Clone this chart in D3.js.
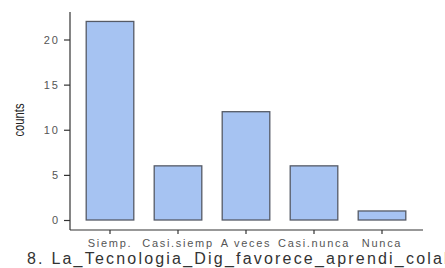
<!DOCTYPE html>
<html><head><meta charset="utf-8">
<script src="https://cdn.jsdelivr.net/npm/d3@7"></script>
<style>body{margin:0;background:#fff;overflow:hidden}svg{display:block}</style>
</head><body>
<script>
const categories = ["Siemp.", "Casi.siemp", "A veces", "Casi.nunca", "Nunca"];
const counts = [22, 6, 12, 6, 1];
const yTicks = [0, 5, 10, 15, 20];
const xTitle = "8. La_Tecnologia_Dig_favorece_aprendi_colaborativo";
const yTitle = "counts";

const W = 445, H = 268;
const svg = d3.select("body").append("svg").attr("width", W).attr("height", H);

const x = d3.scaleBand().domain(categories).range([76, 416]).paddingInner(0.3).paddingOuter(0.15);
const y = d3.scaleLinear().domain([0, 20]).range([220, 39.5]);

// bars
svg.selectAll("rect.bar").data(categories).enter().append("rect")
  .attr("class", "bar")
  .attr("x", d => x(d))
  .attr("width", x.bandwidth())
  .attr("y", (d, i) => y(counts[i]))
  .attr("height", (d, i) => y(0) - y(counts[i]))
  .attr("fill", "#a6c3f2")
  .attr("stroke", "#555a66")
  .attr("stroke-width", 1.3);

// y axis
const yAxis = svg.append("g").attr("transform", "translate(70,0)")
  .call(d3.axisLeft(y).tickValues(yTicks).tickSize(6).tickPadding(4));
yAxis.select(".domain").remove();
svg.append("line").attr("x1", 70).attr("x2", 70).attr("y1", 12).attr("y2", 230)
  .attr("stroke", "#333").attr("stroke-width", 1.2);
yAxis.selectAll(".tick line").attr("stroke", "#333").attr("stroke-width", 1.2);
yAxis.selectAll(".tick text").attr("fill", "#555").attr("font-family", "Liberation Sans, Arial, sans-serif")
  .attr("font-size", 11).attr("letter-spacing", "2px");

// x axis
const xAxis = svg.append("g").attr("transform", "translate(0,230)")
  .call(d3.axisBottom(x).tickSize(4).tickPadding(5));
xAxis.select(".domain").remove();
svg.append("line").attr("x1", 70).attr("x2", 423).attr("y1", 230).attr("y2", 230)
  .attr("stroke", "#333").attr("stroke-width", 1.2);
xAxis.selectAll(".tick line").attr("stroke", "#333").attr("stroke-width", 1.2);
xAxis.selectAll(".tick text").attr("fill", "#555").attr("font-family", "Liberation Sans, Arial, sans-serif")
  .attr("font-size", 11).attr("letter-spacing", "1.7px");

// axis titles
svg.append("text").attr("x", 27).attr("y", 264)
  .attr("font-family", "Liberation Sans, Arial, sans-serif").attr("font-size", 16)
  .attr("letter-spacing", "2.2px").attr("fill", "#333").text(xTitle);

svg.append("text")
  .attr("transform", "translate(24,120) rotate(-90) scale(0.75,1)")
  .attr("text-anchor", "middle")
  .attr("font-family", "Liberation Sans, Arial, sans-serif").attr("font-size", 15)
  .attr("fill", "#222").text(yTitle);
</script>
</body></html>
